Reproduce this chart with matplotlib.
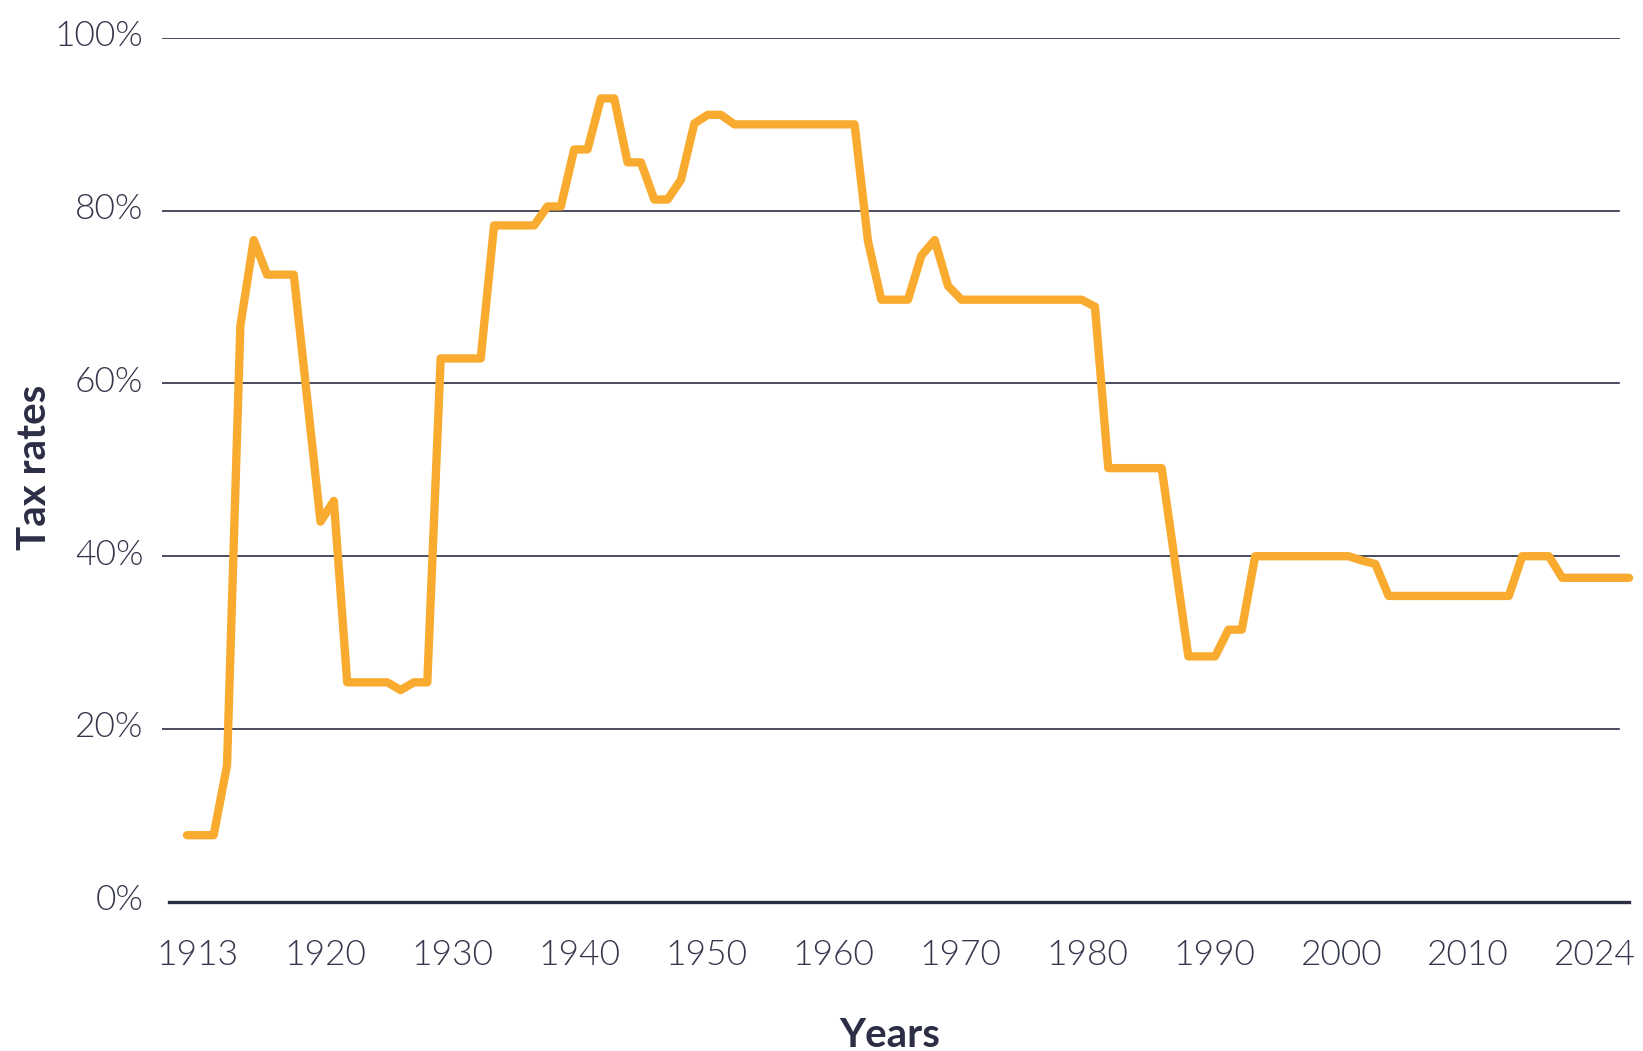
import matplotlib
matplotlib.use("Agg")
import matplotlib.pyplot as plt
import matplotlib.transforms as mtransforms
import numpy as np

# top marginal rate per year
years = list(range(1913, 2022))
rates = [
    7.7, 7.7, 7.7, 15.8, 66.7, 76.6, 72.6, 72.6, 72.6, 58.3,      # 1913-1922
    44.0, 46.4, 25.4, 25.4, 25.4, 25.4, 24.5, 25.4, 25.4, 62.9,   # 1923-1932
    62.9, 62.9, 62.9, 78.3, 78.3, 78.3, 78.3, 80.5, 80.5, 87.1,   # 1933-1942
    87.1, 93.0, 93.0, 85.6, 85.6, 81.3, 81.3, 83.6, 90.1, 91.1,   # 1943-1952
    91.1, 90.0, 90.0, 90.0, 90.0, 90.0, 90.0, 90.0, 90.0, 90.0,   # 1953-1962
    90.0, 76.5, 69.7, 69.7, 69.7, 74.8, 76.6, 71.3, 69.7, 69.7,   # 1963-1972
    69.7, 69.7, 69.7, 69.7, 69.7, 69.7, 69.7, 69.7, 68.9, 50.2,   # 1973-1982
    50.2, 50.2, 50.2, 50.2, 39.3, 28.4, 28.4, 28.4, 31.5, 31.5,   # 1983-1992
    40.0, 40.0, 40.0, 40.0, 40.0, 40.0, 40.0, 40.0, 39.5, 39.1,   # 1993-2002
    35.4, 35.4, 35.4, 35.4, 35.4, 35.4, 35.4, 35.4, 35.4, 35.4,   # 2003-2012
    40.0, 40.0, 40.0, 37.5, 37.5, 37.5, 37.5, 37.5, 37.5,         # 2013-2021
]
x_labels = ['1913', '1920', '1930', '1940', '1950', '1960', '1970',
            '1980', '1990', '2000', '2010', '2024']
y_ticks = [0, 20, 40, 60, 80, 100]

ORANGE = '#F9AB30'
NAVY = '#2B2E44'
TEXT = '#34374C'

W, H = 1643, 1051
fig = plt.figure(figsize=(W / 100, H / 100), dpi=100)
ax = fig.add_axes([162 / W, 1 - 901.7 / H, (1629 - 162) / W, (901.7 - 38) / H])

ax.plot(years, rates, color=ORANGE, linewidth=6, solid_capstyle='round',
        solid_joinstyle='round', clip_on=False, zorder=3)

ax.set_xlim(1911.13, 2021.0)
ax.set_ylim(0, 100)

# horizontal rules; the zero line is heavier and a bit longer
grid_end = (1619 - 162) / (1629 - 162)
for v in y_ticks[1:]:
    ax.axhline(v, xmin=0, xmax=grid_end, color=NAVY, linewidth=1.2, zorder=1)
ax.axhline(0, xmin=7 / 1467, xmax=1, color=NAVY, linewidth=2.4, zorder=2,
           clip_on=False)

for s in ax.spines.values():
    s.set_visible(False)

ax.set_yticks(y_ticks)
ax.set_yticklabels([f'{v}%' for v in y_ticks])
ax.set_xticks(np.linspace(1913.82, 2018.48, len(x_labels)))
ax.set_xticklabels(x_labels)

ax.tick_params(axis='both', length=0, labelsize=25.5, labelcolor=TEXT)
ax.tick_params(axis='y', pad=13.5)
ax.tick_params(axis='x', pad=27)
for lab in ax.get_xticklabels() + ax.get_yticklabels():
    lab.set_family(['Lato', 'DejaVu Sans'])
    lab.set_fontweight(300)

# the percent labels sit a little above their rules
lift = mtransforms.ScaledTranslation(0, 4.5 / 100, fig.dpi_scale_trans)
for lab in ax.get_yticklabels():
    lab.set_transform(lab.get_transform() + lift)

fig.text(35 / W, 1 - 467 / H, 'Tax rates', rotation=90, ha='center', va='center',
         fontsize=29, fontweight='bold', color=NAVY, family=['Lato', 'DejaVu Sans'])
fig.text(890 / W, 1 - 1047 / H, 'Years', ha='center', va='baseline',
         fontsize=29, fontweight='bold', color=NAVY, family=['Lato', 'DejaVu Sans'])

fig.savefig('out.png', dpi=100)
